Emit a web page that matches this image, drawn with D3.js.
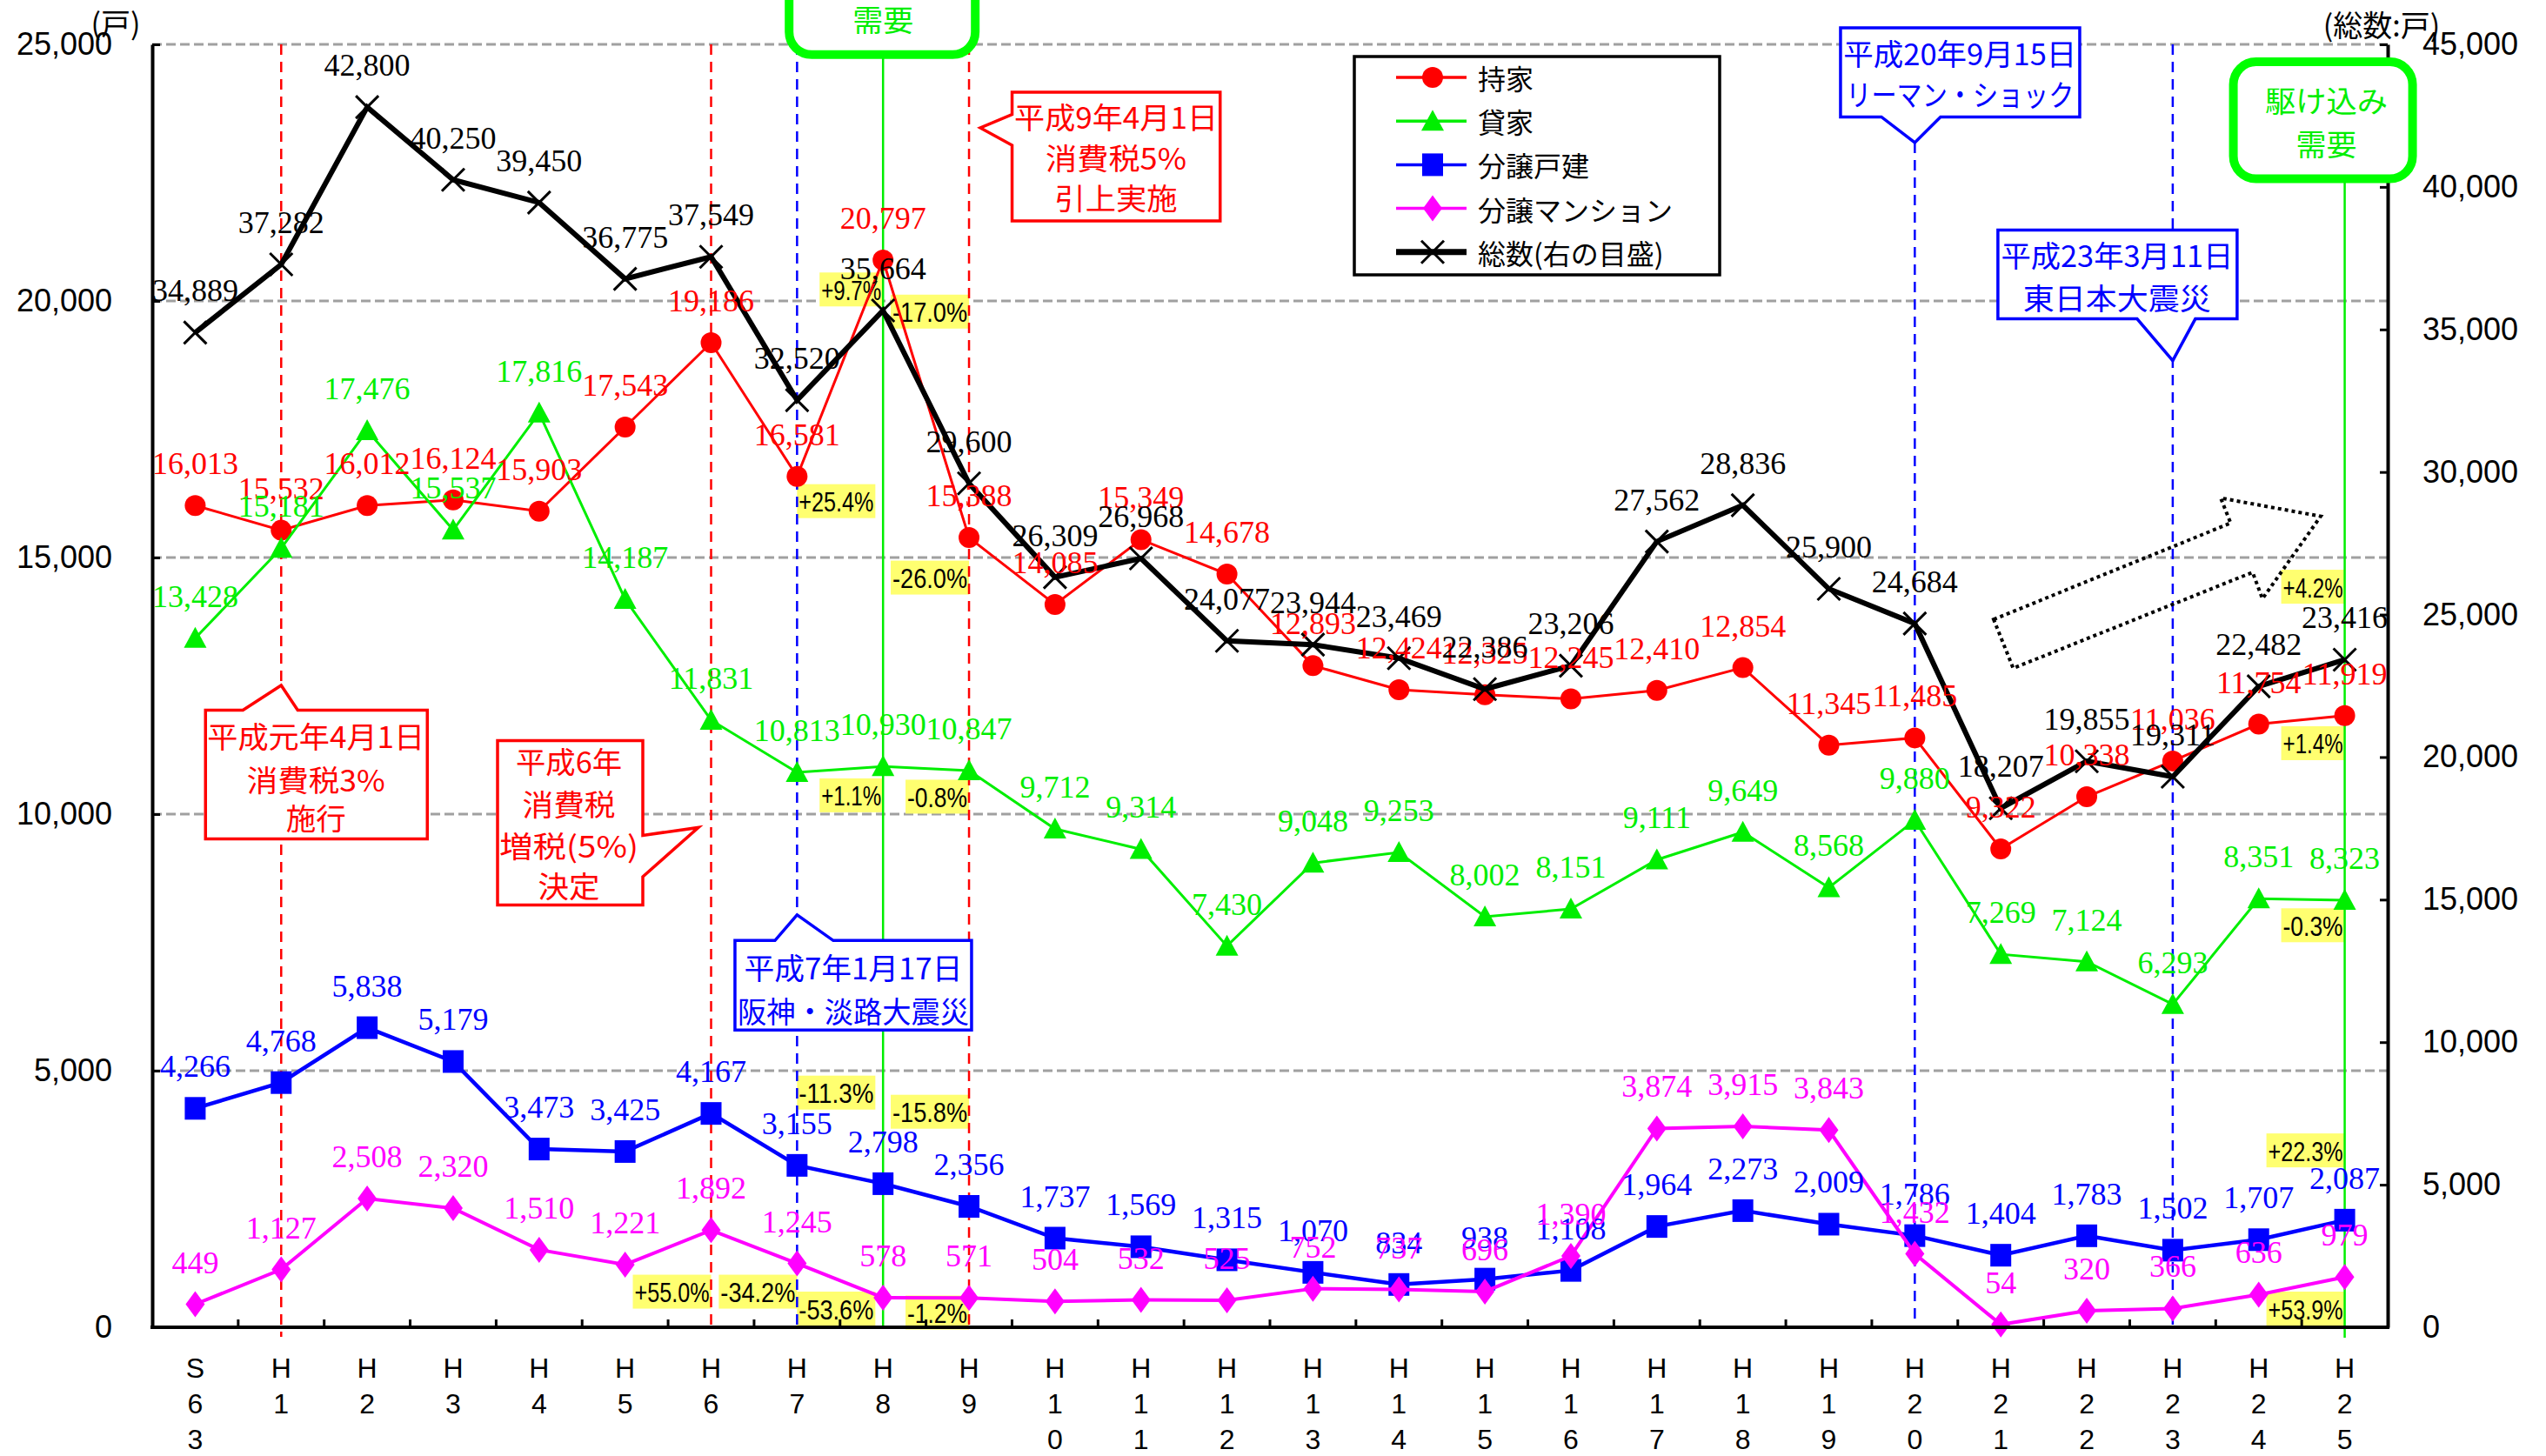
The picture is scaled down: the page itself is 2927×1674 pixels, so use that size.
<!DOCTYPE html>
<html><head><meta charset="utf-8">
<script src="https://cdn.jsdelivr.net/npm/d3@7"></script>
<style>html,body{margin:0;padding:0;background:#fff;}svg{display:block;}</style>
</head><body>
<svg id="chart" width="2927" height="1674"></svg>
<script>
// ---------- DATA ----------
const categories = ["S63","H1","H2","H3","H4","H5","H6","H7","H8","H9","H10","H11","H12","H13","H14","H15","H16","H17","H18","H19","H20","H21","H22","H23","H24","H25"];
const mochiie = [16013,15532,16012,16124,15903,17543,19186,16581,20797,15388,14085,15349,14678,12893,12424,12325,12245,12410,12854,11345,11485,9322,10338,11036,11754,11919];
const kashiya = [13428,15181,17476,15537,17816,14187,11831,10813,10930,10847,9712,9314,7430,9048,9253,8002,8151,9111,9649,8568,9880,7269,7124,6293,8351,8323];
const bunjoKodate = [4266,4768,5838,5179,3473,3425,4167,3155,2798,2356,1737,1569,1315,1070,834,938,1108,1964,2273,2009,1786,1404,1783,1502,1707,2087];
const bunjoMansion = [449,1127,2508,2320,1510,1221,1892,1245,578,571,504,532,525,752,737,696,1390,3874,3915,3843,1432,54,320,366,636,979];
const total = [34889,37282,42800,40250,39450,36775,37549,32520,35664,29600,26309,26968,24077,23944,23469,22386,23206,27562,28836,25900,24684,18207,19855,19311,22482,23416];
const seriesNames = ["持家","貸家","分譲戸建","分譲マンション","総数(右の目盛)"];
const leftTicks = [0,5000,10000,15000,20000,25000];
const rightTicks = [0,5000,10000,15000,20000,25000,30000,35000,40000,45000];
const pctNotes = [
  {text:"+9.7%", cat:"H8", side:"end", v:20224},
  {text:"-17.0%", cat:"H9", side:"end", v:19792},
  {text:"+25.4%", cat:"H7", side:"start", v:16099},
  {text:"-26.0%", cat:"H9", side:"end", v:14609},
  {text:"+1.1%", cat:"H8", side:"end", v:10366},
  {text:"-0.8%", cat:"H9", side:"end", v:10340},
  {text:"-11.3%", cat:"H7", side:"start", v:4573},
  {text:"-15.8%", cat:"H9", side:"end", v:4200},
  {text:"+55.0%", cat:"H6", side:"end", v:694},
  {text:"-34.2%", cat:"H7", side:"end", v:694},
  {text:"-53.6%", cat:"H7", side:"start", v:364},
  {text:"-1.2%", cat:"H9", side:"end", v:288},
  {text:"+4.2%", cat:"H25", side:"end", v:14431},
  {text:"+1.4%", cat:"H25", side:"end", v:11382},
  {text:"-0.3%", cat:"H25", side:"end", v:7834},
  {text:"+22.3%", cat:"H25", side:"end", v:3447},
  {text:"+53.9%", cat:"H25", side:"end", v:364}
];

// ---------- SETUP ----------
const W = 2927, H = 1674;
const RED = "#ff0000", GREEN = "#00ee00", BLUE = "#0000ff", MAG = "#ff00ff", BLACK = "#000000";
const SANS = "'Liberation Sans', Arial, sans-serif";
const SERIF = "'Liberation Serif', 'Times New Roman', serif";
const JP = "'Noto Sans CJK JP', 'Noto Sans', sans-serif";
const plot = {left:175, right:2745, top:51, bottom:1526};

const svg = d3.select("#chart");
svg.append("rect").attr("width", W).attr("height", H).attr("fill", "#fff");

const x = d3.scaleBand().domain(categories).range([plot.left, plot.right]).padding(0);
const xc = c => x(c) + x.bandwidth() / 2;
const yL = d3.scaleLinear().domain([0, 25000]).range([plot.bottom, plot.top]);
const yR = d3.scaleLinear().domain([0, 45000]).range([plot.bottom, plot.top]);
const fmt = d3.format(",");

const markerPaths = {
  circle: d3.symbol(d3.symbolCircle, Math.PI * 144)(),
  triangle: "M0,-13L13,11L-13,11Z",
  square: "M-12,-13H12V13H-12Z",
  diamond: "M0,-15L11,0L0,15L-11,0Z",
  x: "M-13,-13L13,13M13,-13L-13,13"
};

const seriesDefs = [
  {name: seriesNames[0], values: mochiie, color: RED, width: 3, marker: "circle", y: yL},
  {name: seriesNames[1], values: kashiya, color: GREEN, width: 3, marker: "triangle", y: yL},
  {name: seriesNames[2], values: bunjoKodate, color: BLUE, width: 4.5, marker: "square", y: yL},
  {name: seriesNames[3], values: bunjoMansion, color: MAG, width: 4, marker: "diamond", y: yL},
  {name: seriesNames[4], values: total, color: BLACK, width: 6, marker: "x", y: yR}
];

function marker(sel, type, color) {
  sel.attr("d", markerPaths[type]);
  if (type === "x") sel.attr("fill", "none").attr("stroke", color).attr("stroke-width", 3);
  else sel.attr("fill", color).attr("stroke", "none");
}

// ---------- GRID ----------
svg.append("g").selectAll("line").data(leftTicks.filter(d => d > 0)).join("line")
  .attr("x1", plot.left).attr("x2", plot.right)
  .attr("y1", d => yL(d)).attr("y2", d => yL(d))
  .attr("stroke", "#a0a0a0").attr("stroke-width", 3).attr("stroke-dasharray", "11,5");

// ---------- PERCENT NOTES (yellow) ----------
const pctG = svg.append("g");
pctNotes.forEach(p => {
  const w = p.text.length <= 5 ? 73 : 90, h = 39;
  const cx0 = xc(p.cat);
  const x0 = p.side === "end" ? cx0 - w : cx0;
  const cy = yL(p.v);
  pctG.append("rect").attr("x", x0).attr("y", cy - h / 2).attr("width", w).attr("height", h).attr("fill", "#ffff70");
  pctG.append("text").attr("x", x0 + w / 2).attr("y", cy + 12).attr("text-anchor", "middle")
    .attr("font-family", SANS).attr("font-size", 32).attr("fill", "#000")
    .attr("textLength", w - 4).attr("lengthAdjust", "spacingAndGlyphs").text(p.text);
});

// ---------- EVENT LINES ----------
const eventLines = [
  {cat:"H1", color:RED, dash:"12,8", top:25000, ext:11},
  {cat:"H6", color:RED, dash:"12,8", top:25000, ext:0},
  {cat:"H7", color:BLUE, dash:"12,8", top:25000, ext:0},
  {cat:"H8", color:GREEN, dash:null, top:24800, ext:0},
  {cat:"H9", color:RED, dash:"12,8", top:25000, ext:0},
  {cat:"H20", color:BLUE, dash:"12,8", top:23086, ext:0},
  {cat:"H23", color:BLUE, dash:"12,8", top:25000, ext:0},
  {cat:"H25", color:GREEN, dash:null, top:22380, ext:12}
];
svg.append("g").selectAll("line").data(eventLines).join("line")
  .attr("x1", d => xc(d.cat)).attr("x2", d => xc(d.cat))
  .attr("y1", d => yL(d.top)).attr("y2", d => yL(0) + d.ext)
  .attr("stroke", d => d.color).attr("stroke-width", 2.5)
  .attr("stroke-dasharray", d => d.dash);

// ---------- DOTTED ARROW ----------
(function(){
  const ax = xc("H21"), ay = yL(15000);
  const pts = [[-8.2,71.1],[264.3,-39.6],[252.8,-68.4],[367.8,-47.4],[300.8,47.4],[289.5,17],[14.3,127.3]];
  svg.append("path").attr("d", "M" + pts.map(p => (ax + p[0]) + "," + (ay + p[1])).join("L") + "Z")
    .attr("fill", "none").attr("stroke", "#000").attr("stroke-width", 4).attr("stroke-dasharray", "4,4");
})();

// ---------- SERIES ----------
const serG = svg.append("g");
seriesDefs.forEach(s => {
  const line = d3.line().x((d, i) => xc(categories[i])).y(d => s.y(d));
  serG.append("path").datum(s.values).attr("d", line).attr("fill", "none")
    .attr("stroke", s.color).attr("stroke-width", s.width).attr("stroke-linejoin", "miter");
  serG.append("g").selectAll("path").data(s.values).join("path")
    .attr("transform", (d, i) => `translate(${xc(categories[i])},${s.y(d)})`)
    .call(sel => marker(sel, s.marker, s.color));
});

// ---------- AXES ----------
const axL = svg.append("g").attr("transform", `translate(${plot.left},0)`)
  .call(d3.axisLeft(yL).tickValues(leftTicks).tickFormat(fmt).tickSizeInner(-9).tickSizeOuter(0).tickPadding(46));
const axR = svg.append("g").attr("transform", `translate(${plot.right},0)`)
  .call(d3.axisRight(yR).tickValues(rightTicks).tickFormat(fmt).tickSizeInner(-9).tickSizeOuter(0).tickPadding(40));
[axL, axR].forEach(a => {
  a.select(".domain").attr("stroke", "#000").attr("stroke-width", 4);
  a.selectAll(".tick line").attr("stroke", "#000").attr("stroke-width", 3);
  a.selectAll(".tick text").attr("font-family", SANS).attr("font-size", 36).attr("fill", "#000");
});
const axB = svg.append("g");
axB.append("line").attr("x1", plot.left - 2).attr("x2", plot.right + 2).attr("y1", yL(0)).attr("y2", yL(0))
  .attr("stroke", "#000").attr("stroke-width", 4);
axB.selectAll("line.tk").data(categories.slice(1)).join("line").attr("class", "tk")
  .attr("x1", d => x(d)).attr("x2", d => x(d)).attr("y1", yL(0)).attr("y2", yL(0) - 9)
  .attr("stroke", "#000").attr("stroke-width", 3);
const rowBase = [1584, 1625, 1666];
categories.forEach(c => {
  c.split("").forEach((ch, k) => {
    axB.append("text").attr("x", xc(c)).attr("y", rowBase[k]).attr("text-anchor", "middle")
      .attr("font-family", SANS).attr("font-size", 32).attr("fill", "#000").text(ch);
  });
});
svg.append("text").attr("x", 133).attr("y", 25).attr("text-anchor", "middle").attr("dominant-baseline", "central")
  .attr("font-family", JP).attr("font-size", 34).attr("fill", "#000").text("(戸)");
svg.append("text").attr("x", 2738).attr("y", 27).attr("text-anchor", "middle").attr("dominant-baseline", "central")
  .attr("font-family", JP).attr("font-size", 34).attr("fill", "#000").text("(総数:戸)");

// ---------- DATA LABELS ----------
const labG = svg.append("g");
seriesDefs.forEach(s => {
  labG.append("g").selectAll("text").data(s.values).join("text")
    .attr("x", (d, i) => xc(categories[i])).attr("y", d => s.y(d) - 36)
    .attr("text-anchor", "middle").attr("font-family", SERIF).attr("font-size", 36)
    .attr("fill", s.color).text(d => fmt(d));
});

// ---------- CALLOUTS ----------
function textLines(g, lines, cx, ys, color, widths) {
  lines.forEach((t, i) => {
    const el = g.append("text").attr("x", cx).attr("y", ys[i]).attr("text-anchor", "middle")
      .attr("dominant-baseline", "central").attr("font-family", JP).attr("font-size", 34)
      .attr("fill", color).text(t);
    if (widths && widths[i]) el.attr("textLength", widths[i]).attr("lengthAdjust", "spacingAndGlyphs");
  });
}
const callouts = [
  {cat:"H1", v:12510, color:RED, lines:["平成元年4月1日","消費税3%","施行"],
   shape:[[-87,28.5],[-44,28.5],[0,0],[19,28.5],[168,28.5],[168,176.5],[-87,176.5]], tx:40, ty:[57.5,107.5,151.5], tw:[250,159,69]},
  {cat:"H6", v:9739, color:RED, lines:["平成6年","消費税","増税(5%)","決定"],
   shape:[[-245.5,-100],[-78.5,-100],[-78.5,9],[-14.5,0],[-78.5,56.6],[-78.5,89],[-245.5,89]], tx:-163.5, ty:[-77,-28,20,66], tw:[122,107,160,71]},
  {cat:"H7", v:8035, color:BLUE, lines:["平成7年1月17日","阪神・淡路大震災"],
   shape:[[-71.4,29.4],[-25.4,29.4],[0,0],[41.6,29.4],[200.6,29.4],[200.6,132.4],[-71.4,132.4]], tx:64.6, ty:[59.4,109.4], tw:[251,266]},
  {cat:"H9", v:23374, color:RED, lines:["平成9年4月1日","消費税5%","引上実施"],
   shape:[[49.5,-41],[288.7,-41],[288.7,107],[49.5,107],[49.5,20],[13,0],[49.5,-15.4]], tx:169, ty:[-13.3,34,80], tw:[234,162,141]},
  {cat:"H20", v:23086, color:BLUE, lines:["平成20年9月15日","リーマン・ショック"],
   shape:[[-85.4,-132],[189.6,-132],[189.6,-29.5],[29.6,-29.5],[0,0],[-38.4,-29.5],[-85.4,-29.5]], tx:52, ty:[-103,-56], tw:[268,262]},
  {cat:"H23", v:18838, color:BLUE, lines:["平成23年3月11日","東日本大震災"],
   shape:[[-201,-150],[74,-150],[74,-48],[26,-48],[0,0],[-41,-48],[-201,-48]], tx:-64, ty:[-121.8,-72.8], tw:[267,216]}
];
const calG = svg.append("g");
callouts.forEach(c => {
  const ax = xc(c.cat), ay = yL(c.v);
  calG.append("path").attr("d", "M" + c.shape.map(p => (ax + p[0]) + "," + (ay + p[1])).join("L") + "Z")
    .attr("fill", "#fff").attr("stroke", c.color).attr("stroke-width", 3.5).attr("stroke-linejoin", "miter");
  textLines(calG, c.lines, ax + c.tx, c.ty.map(t => ay + t), c.color, c.tw);
});

// green rounded "駆け込み需要" boxes
[{cat:"H8", v:24800, dx0:-108, dx1:106, tx:0}, {cat:"H25", v:22380, dx0:-128, dx1:78, tx:-21}].forEach(b => {
  const cx0 = xc(b.cat), bottom = yL(b.v), top = bottom - 134.5;
  calG.append("rect").attr("x", cx0 + b.dx0).attr("y", top).attr("width", b.dx1 - b.dx0).attr("height", bottom - top)
    .attr("rx", 26).attr("ry", 26).attr("fill", "#fff").attr("stroke", "#00ff00").attr("stroke-width", 10);
  textLines(calG, ["駆け込み", "需要"], cx0 + b.tx, [bottom - 91, bottom - 41], GREEN, [141, 70]);
});

// ---------- LEGEND ----------
const leg = svg.append("g");
leg.append("rect").attr("x", 1557).attr("y", 65).attr("width", 420).attr("height", 251)
  .attr("fill", "#fff").attr("stroke", "#000").attr("stroke-width", 3.5);
seriesDefs.forEach((s, i) => {
  const yy = 89 + i * 50.2;
  leg.append("line").attr("x1", 1605).attr("x2", 1686).attr("y1", yy).attr("y2", yy)
    .attr("stroke", s.color).attr("stroke-width", s.marker === "x" ? 7 : 3.5);
  leg.append("path").attr("transform", `translate(1647,${yy})`).call(sel => marker(sel, s.marker, s.color));
  leg.append("text").attr("x", 1699).attr("y", yy).attr("dominant-baseline", "central")
    .attr("font-family", JP).attr("font-size", 32).attr("fill", "#000").text(s.name);
});
</script>
</body></html>
